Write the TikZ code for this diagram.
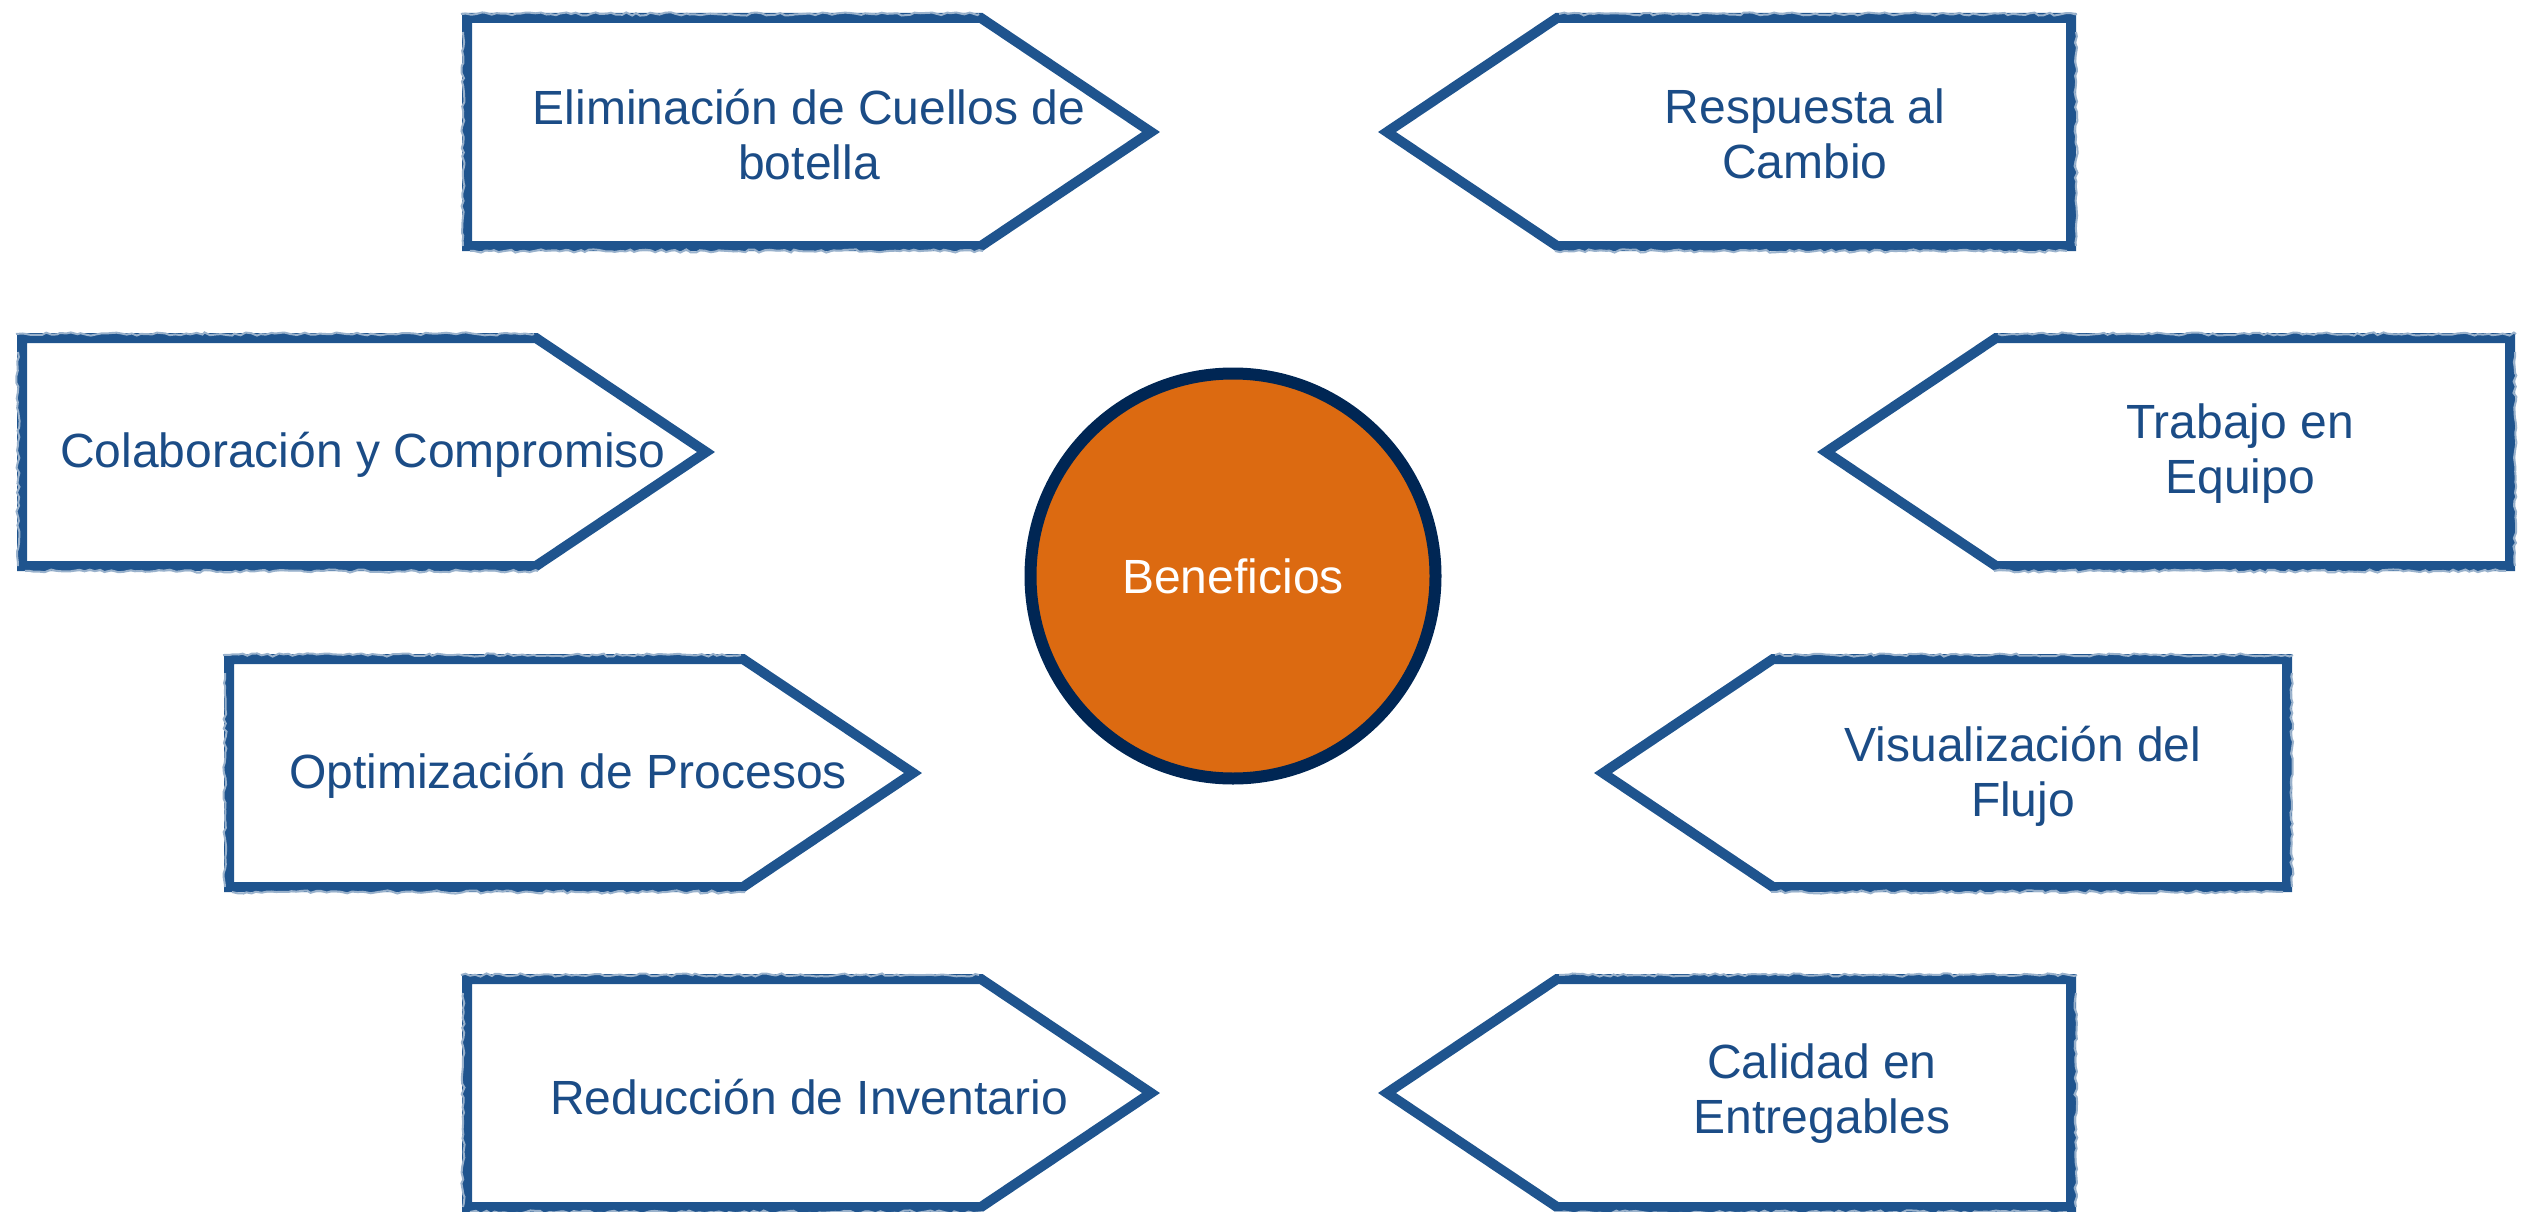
\documentclass[tikz,border=0pt]{standalone}
\usepackage{fontspec}
\setmainfont{Liberation Sans}
\usetikzlibrary{decorations.pathmorphing}
\definecolor{boxblue}{RGB}{31,84,142}
\definecolor{txtblue}{RGB}{27,76,134}
\definecolor{orng}{RGB}{220,106,17}
\definecolor{navy}{RGB}{0,38,84}
\tikzset{
  rough/.style={draw=boxblue, line width=10pt, line join=miter, miter limit=10},
  grit/.style={draw=boxblue!45, line width=2pt, decorate,
    decoration={random steps, segment length=5pt, amplitude=1.6pt}},
  lbl/.style={text=txtblue, font=\fontsize{48}{55}\selectfont, align=center, inner sep=0pt},
  hub/.style={circle, draw=navy, line width=12pt, fill=orng, minimum size=405pt,
    text=white, font=\fontsize{48}{55}\selectfont, inner sep=0pt}
}
% right-pointing box: left x, centre y
\newcommand\rightbox[2]{%
  \draw[rough] (#1,#2-114) -- (#1+514,#2-114) -- (#1+684,#2) -- (#1+514,#2+114) -- (#1,#2+114) -- cycle;
  \draw[grit] (#1-6,#2-118) -- (#1+512,#2-118);
  \draw[grit] (#1+3,#2+119) -- (#1+516,#2+119);
  \draw[grit] (#1-4,#2-100) -- (#1-4,#2+114);
}
% left-pointing box: tip x, centre y
\newcommand\leftbox[2]{%
  \draw[rough] (#1,#2) -- (#1+170,#2-114) -- (#1+684,#2-114) -- (#1+684,#2+114) -- (#1+170,#2+114) -- cycle;
  \draw[grit] (#1+172,#2-118) -- (#1+690,#2-118);
  \draw[grit] (#1+168,#2+119) -- (#1+680,#2+119);
  \draw[grit] (#1+689,#2-100) -- (#1+689,#2+114);
}
\begin{document}
\begin{tikzpicture}[x=1pt,y=-1pt]
\pgfmathsetseed{7}
\useasboundingbox (0,0) rectangle (2523,1212);
\rightbox{467}{132}
\leftbox{1387}{132}
\rightbox{22}{452}
\leftbox{1826}{452}
\rightbox{229}{773}
\leftbox{1603}{773}
\rightbox{467}{1093}
\leftbox{1387}{1093}
\node[hub] (ben) at (1233,576) {Beneficios};
\node[lbl] (t1) at (809,135) {Eliminación de Cuellos de\\botella};
\node[lbl] (t2) at (1805,134) {Respuesta al\\Cambio};
\node[lbl] (t3) at (363,455) {Colaboración y Compromiso};
\node[lbl] (t4) at (2240,454) {Trabajo en\\Equipo};
\node[lbl] (t5) at (568,776) {Optimización de Procesos};
\node[lbl] (t6) at (2023,776) {Visualización del\\Flujo};
\node[lbl] (t7) at (809,1097) {Reducción de Inventario};
\node[lbl] (t8) at (1822,1094) {Calidad en\\Entregables};
\end{tikzpicture}
\end{document}
